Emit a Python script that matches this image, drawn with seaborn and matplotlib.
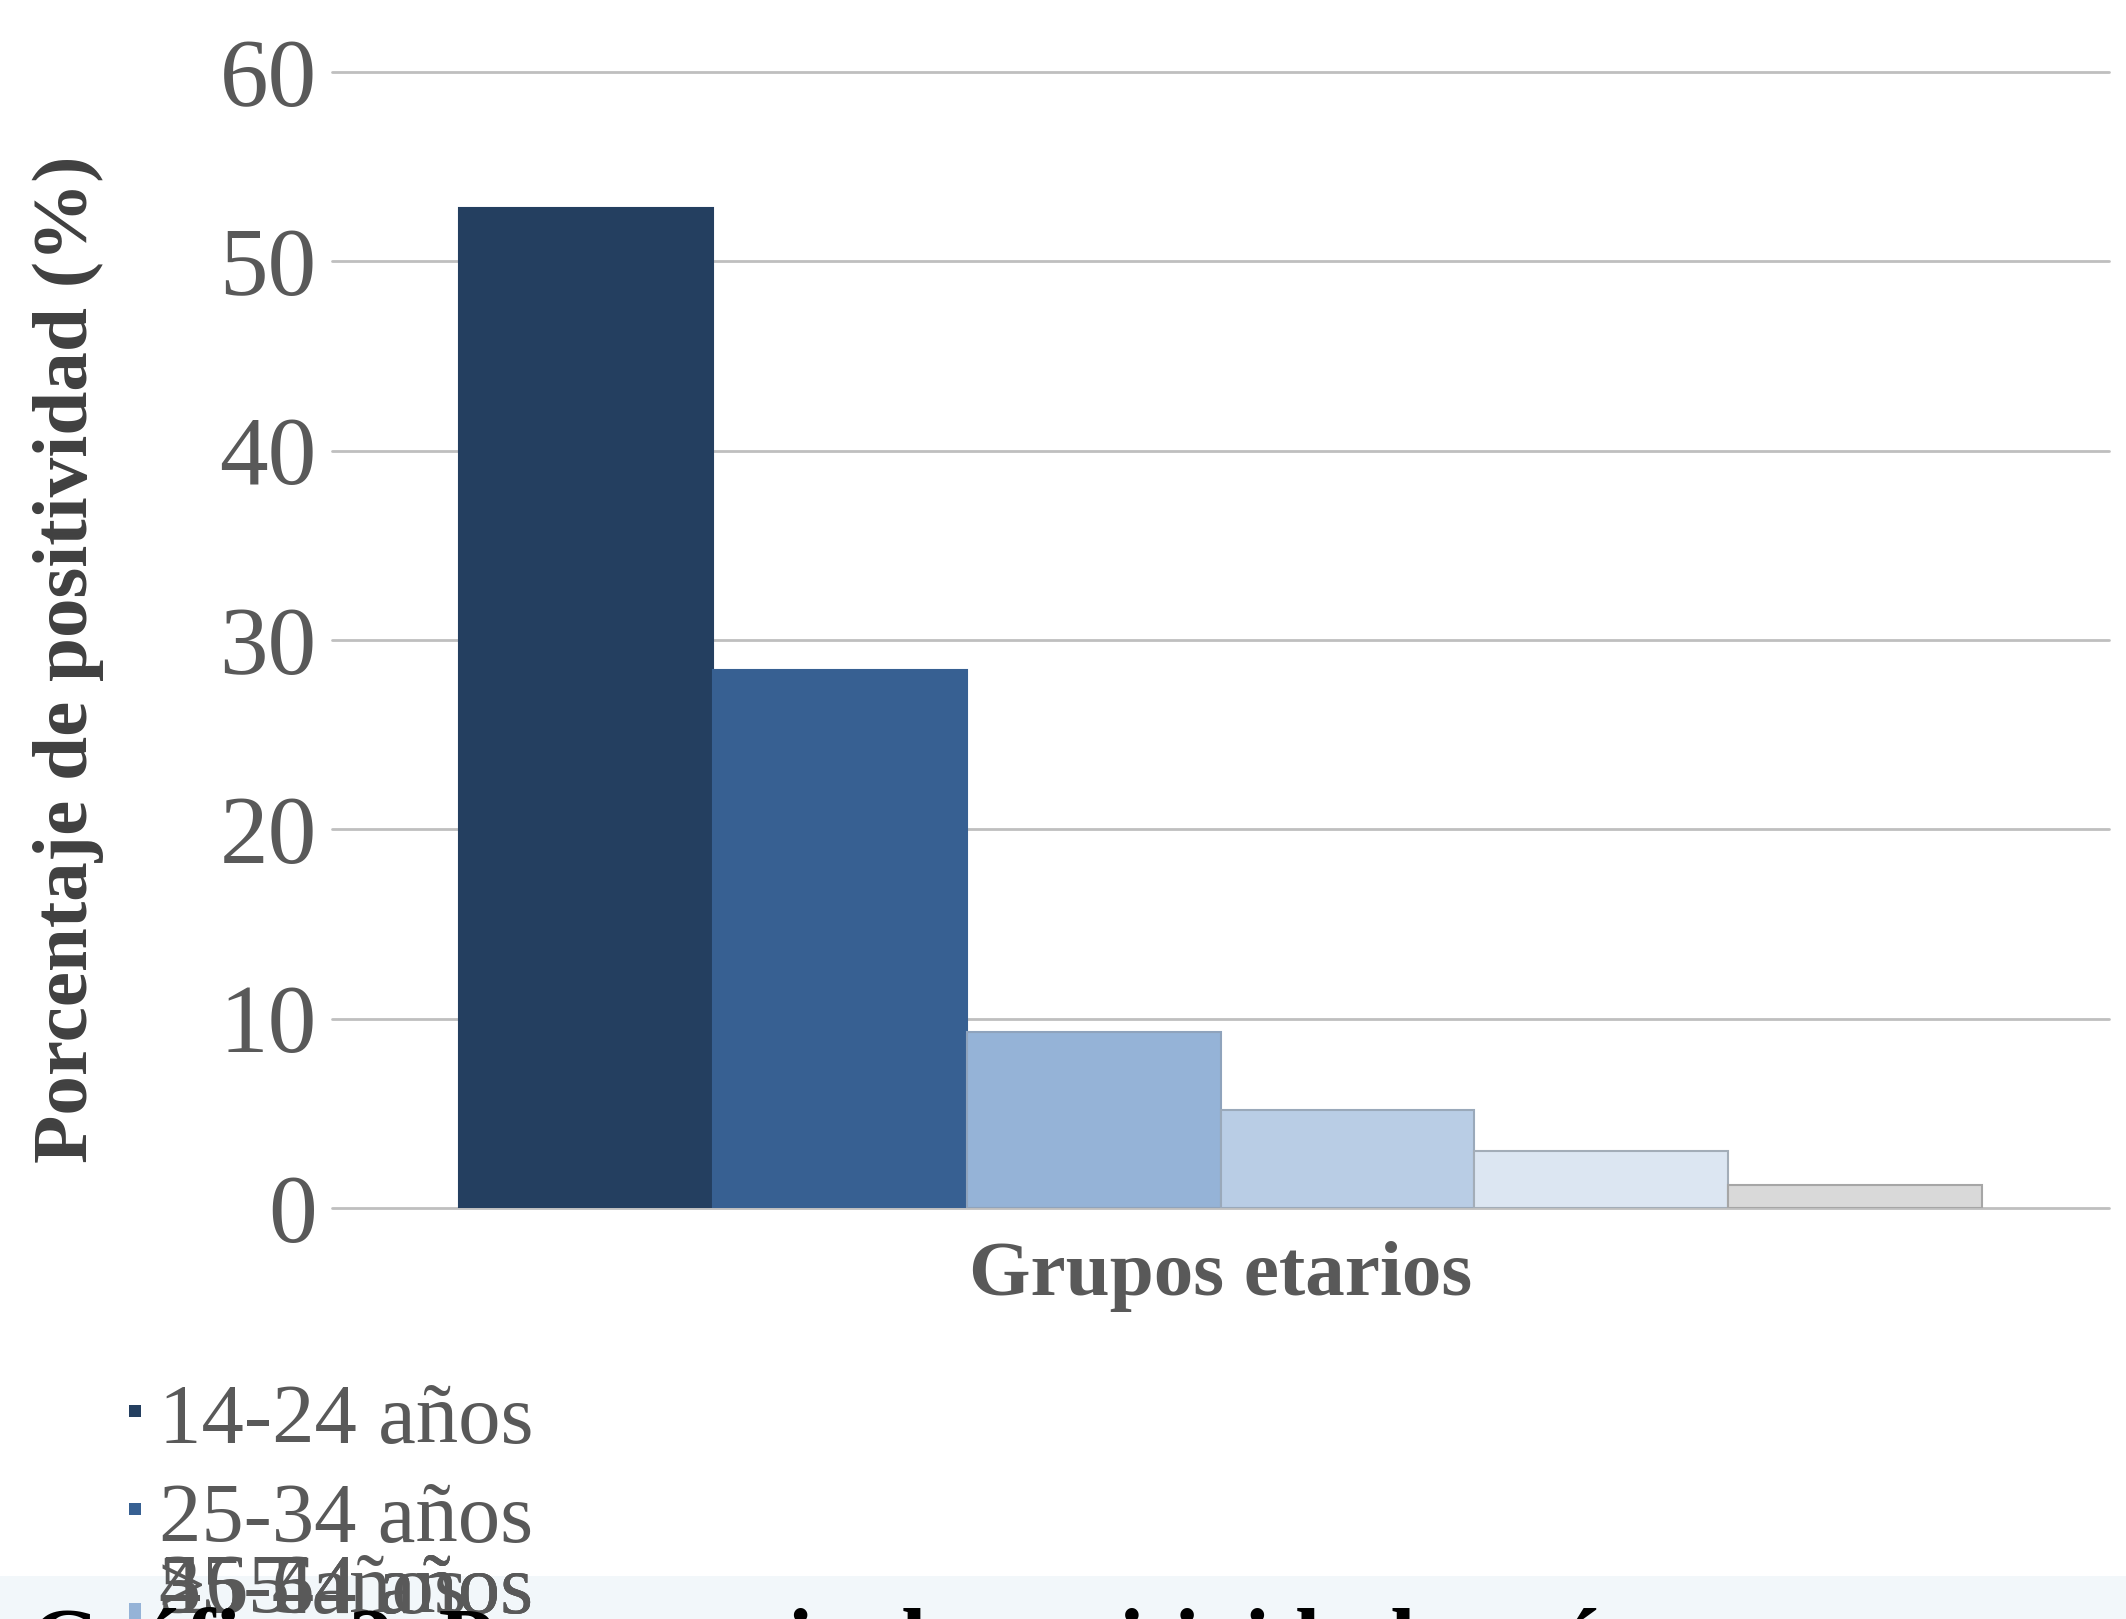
import matplotlib
matplotlib.use("Agg")
import matplotlib.pyplot as plt
from matplotlib.patches import Rectangle
import seaborn as sns
import pandas as pd

# ---- data ----
grupos = ["14-24 años", "25-34 años", "35-44 años", "45-54 años", "55-64 años", "≥65 años"]
valores = [52.8, 28.4, 9.3, 5.2, 3.0, 1.2]
colores = ["#243F60", "#376092", "#95B3D7", "#B9CDE5", "#DCE6F2", "#D9D9D9"]
bordes = ["#243F60", "#376092", "#8FA3BC", "#9AA9BA", "#A3ADB8", "#A6A6A6"]
yticks = [0, 10, 20, 30, 40, 50, 60]
ylabel = "Porcentaje de positividad (%)"
xlabel = "Grupos etarios"
caption = "Gráfico 2. Porcentaje de positividad según grupos etarios"

sns.set_style("white")
plt.rcParams["font.family"] = ["Liberation Serif", "DejaVu Serif"]

W, H = 2126, 1619
fig = plt.figure(figsize=(W / 100, H / 100), dpi=100)
fig.patch.set_facecolor("white")

# bottom band
fig.add_artist(Rectangle((0, 0), 1, (H - 1576) / H, transform=fig.transFigure,
                         facecolor="#F2F7FA", edgecolor="none", zorder=0))

ax = fig.add_axes([332 / W, 411 / H, 1777 / W, 1136 / H])
ax.set_facecolor("none")

df = pd.DataFrame({"eje": ["Grupos"] * len(grupos), "grupo": grupos, "valor": valores})
sns.barplot(data=df, x="eje", y="valor", hue="grupo", hue_order=grupos,
            palette=colores, width=0.857, saturation=1, legend=False, ax=ax,
            errorbar=None)
for p, ec in zip(ax.patches, bordes):
    p.set_edgecolor(ec)
    p.set_linewidth(1.5)
    p.set_zorder(3)

ax.set_ylim(0, 60)
ax.set_xlim(-0.5, 0.5)
ax.set_yticks(yticks)
ax.set_yticklabels([str(t) for t in yticks])
ax.set_xticks([])
ax.tick_params(axis="y", length=0, pad=11, labelsize=70, labelcolor="#595959")
for s in ax.spines.values():
    s.set_visible(False)
ax.set_axisbelow(True)
ax.yaxis.grid(True, color="#BFBFBF", linewidth=2)
for gl in ax.get_ygridlines():
    gl.set_clip_on(False)

ax.set_ylabel(ylabel, fontsize=57, fontweight="bold", color="#404040")
ax.yaxis.label.set_va("center")
ax.yaxis.set_label_coords(-0.1486, 0.483)
ax.set_xlabel(xlabel, fontsize=57, fontweight="bold", color="#595959")
ax.xaxis.label.set_va("center")
ax.xaxis.set_label_coords(0.5, -0.0607)

# legend (manual, last rows overlapping as in reference)
leg_x = 159 / W
mk_x = 129 / W
mk_w = 12 / W
rows = [(1443, 1405, 12), (1542, 1503, 12)] + [(1613, 1603, 20)] * 4
for i in reversed(range(len(grupos))):
    base, mtop, mh = rows[i]
    fig.add_artist(Rectangle((mk_x, (H - mtop - mh) / H), mk_w, mh / H,
                             transform=fig.transFigure, facecolor=colores[i],
                             edgecolor="none", zorder=5))
    fig.text(leg_x, (H - base) / H, grupos[i], fontsize=61, color="#595959",
             ha="left", va="baseline", zorder=5)

fig.text(30 / W, (H - 1671) / H, caption, fontsize=65, fontweight="bold",
         color="black", ha="left", va="baseline", zorder=6)

fig.savefig("out.png", dpi=100)
